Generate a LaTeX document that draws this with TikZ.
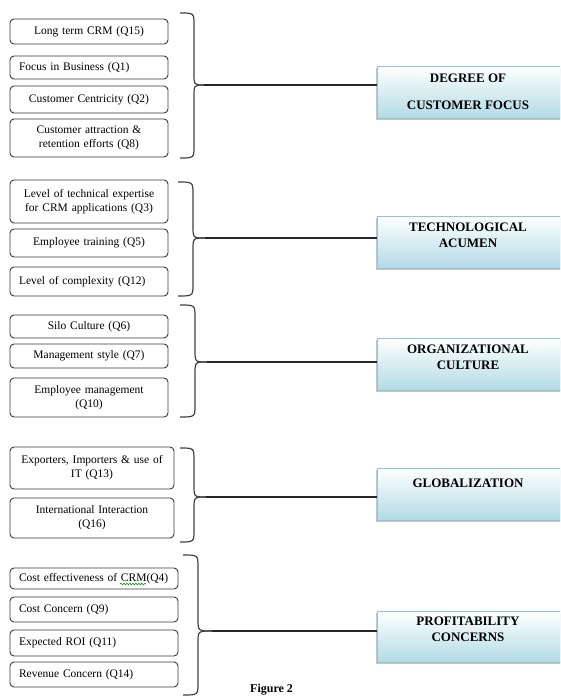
\documentclass[tikz,border=0pt]{standalone}
\usepackage{fontspec}
\setmainfont{Liberation Serif}
\usetikzlibrary{shadows,decorations.pathmorphing}
\definecolor{boxblue}{HTML}{B3DAE6}
\definecolor{boxedge}{HTML}{93C4D5}
\definecolor{qedge}{HTML}{3A3A3A}
\tikzset{
  qbox/.style={draw=qedge, line width=0.9pt, rounded corners=4pt, fill=white,
    inner xsep=4pt, inner ysep=0pt, font=\fontsize{11.5}{14}\selectfont},
  rbox/.style={draw=boxedge, line width=0.8pt, top color=white, bottom color=boxblue,
    drop shadow={shadow xshift=-1.5pt, shadow yshift=-2pt, fill=black!45, opacity=.5}},
  rlab/.style={font=\bfseries\fontsize{13}{16}\selectfont, align=center, inner sep=0pt},
  bracestyle/.style={draw=black!75, line width=1.2pt},
  link/.style={draw=black!85, line width=1.3pt},
}
\newcommand\lbox[7]{\node[qbox, align=#6, minimum width={(#3-#2)*1pt}, minimum height={(#5-#4)*1pt}, text width={(#3-#2-18)*1pt}] (#1) at ({(#2+#3)/2},{(#4+#5)/2}) {#7};}
\begin{document}
\begin{tikzpicture}[x=1pt,y=-1pt]
\useasboundingbox (0,0) rectangle (560,698);
\clip (0,0) rectangle (560,698);

% ---- group 1
\lbox{a1}{10}{168}{19}{44}{center}{Long term CRM (Q15)}
\lbox{a2}{10}{168}{56}{79}{left}{Focus in Business (Q1)}
\lbox{a3}{10}{168}{86}{113}{center}{Customer Centricity (Q2)}
\lbox{a4}{10}{168}{119}{157}{center}{Customer attraction \&\\retention efforts (Q8)}
\draw[bracestyle] (180,13) .. controls (194,13) .. (194,25) -- (194,73) .. controls (194,85) .. (204,85);
\draw[bracestyle] (180,158) .. controls (194,158) .. (194,146) -- (194,97) .. controls (194,85) .. (204,85);
\coordinate (t1) at (204,85);

% ---- group 2
\lbox{b1}{10}{168}{180}{223}{center}{Level of technical expertise\\for CRM applications (Q3)}
\lbox{b2}{10}{168}{229}{257}{center}{Employee training (Q5)}
\lbox{b3}{10}{168}{267}{296}{left}{Level of complexity (Q12)}
\draw[bracestyle] (178,182) .. controls (193,182) .. (193,194) -- (193,226) .. controls (193,238) .. (205,238);
\draw[bracestyle] (178,296) .. controls (193,296) .. (193,284) -- (193,250) .. controls (193,238) .. (205,238);
\coordinate (t2) at (205,238);

% ---- group 3
\lbox{c1}{10}{168}{315}{338}{center}{Silo Culture (Q6)}
\lbox{c2}{10}{168}{344}{368}{center}{Management style (Q7)}
\lbox{c3}{10}{168}{378}{417}{center}{Employee management\\(Q10)}
\draw[bracestyle] (180,305) .. controls (195,305) .. (195,317) -- (195,350) .. controls (195,362) .. (207,362);
\draw[bracestyle] (180,417) .. controls (195,417) .. (195,405) -- (195,374) .. controls (195,362) .. (207,362);
\coordinate (t3) at (207,362);

% ---- group 4
\lbox{d1}{10}{174}{447}{489}{center}{Exporters, Importers \& use of\\IT (Q13)}
\lbox{d2}{10}{174}{498}{538}{center}{International Interaction\\(Q16)}
\draw[bracestyle] (180,448) .. controls (194,448) .. (194,460) -- (194,485) .. controls (194,497) .. (206,497);
\draw[bracestyle] (180,542) .. controls (194,542) .. (194,530) -- (194,509) .. controls (194,497) .. (206,497);
\coordinate (t4) at (206,497);

% ---- group 5
\lbox{e1}{10}{178}{568}{589}{left}{Cost effectiveness of CRM(Q4)}
\lbox{e2}{10}{178}{597}{622}{left}{Cost Concern (Q9)}
\lbox{e3}{10}{178}{630}{656}{left}{Expected ROI (Q11)}
\lbox{e4}{10}{178}{662}{687}{left}{Revenue Concern (Q14)}
\draw[green!60!black, line width=0.6pt, decorate, decoration={snake, amplitude=0.8pt, segment length=3pt}] (120,584) -- (146,584);
\draw[bracestyle] (183,555) .. controls (198,555) .. (198,567) -- (198,619) .. controls (198,631) .. (212,631);
\draw[bracestyle] (183,695) .. controls (198,695) .. (198,683) -- (198,643) .. controls (198,631) .. (212,631);
\coordinate (t5) at (212,631);

% ---- right boxes
\node[rbox, minimum width=185pt, minimum height=52pt] (r1) at (469.5,92) {};
\node[rbox, minimum width=185pt, minimum height=52pt] (r2) at (469.5,242) {};
\node[rbox, minimum width=185pt, minimum height=52pt] (r3) at (469.5,364) {};
\node[rbox, minimum width=185pt, minimum height=52pt] (r4) at (469.5,494) {};
\node[rbox, minimum width=185pt, minimum height=51pt] (r5) at (469.5,636.5) {};

\node[rlab, font=\bfseries\fontsize{13}{27}\selectfont] (l1) at (468,91.5) {DEGREE OF\\CUSTOMER FOCUS};
\node[rlab] (l2) at (468,235) {TECHNOLOGICAL\\ACUMEN};
\node[rlab] (l3) at (468,357.5) {ORGANIZATIONAL\\CULTURE};
\node[rlab] (l4) at (468,483) {GLOBALIZATION};
\node[rlab] (l5) at (468,629) {PROFITABILITY\\CONCERNS};

% ---- connectors
\draw[link] (t1) -- (t1 -| r1.west);
\draw[link] (t2) -- (t2 -| r2.west);
\draw[link] (t3) -- (t3 -| r3.west);
\draw[link] (t4) -- (t4 -| r4.west);
\draw[link] (t5) -- (t5 -| r5.west);

\node[anchor=north west, inner sep=0pt, font=\bfseries\fontsize{12}{14}\selectfont] (fig) at (250,684) {Figure 2};
\end{tikzpicture}
\end{document}
